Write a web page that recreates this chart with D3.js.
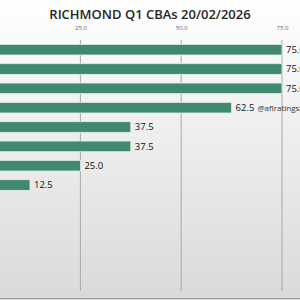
<!DOCTYPE html>
<html>
<head>
<meta charset="utf-8">
<script src="https://cdn.jsdelivr.net/npm/d3@7"></script>
<style>
  html, body { margin: 0; padding: 0; background: #fff; }
  svg { display: block; }
</style>
</head>
<body>
<svg id="myGraph" width="300" height="300"></svg>
<script>
// player rows (names are cut off on the left of the picture)
var players = ["p1", "p2", "p3", "p4", "p5", "p6", "p7", "p8"];
var cbaPct = [75.0, 75.0, 75.0, 62.5, 37.5, 37.5, 25.0, 12.5];
var tickValues = [0, 25, 50, 75];
var titleText = "RICHMOND Q1 CBAs 20/02/2026";
var credit = "@aflratingsStats";

var svg = d3.select("#myGraph");
var svgWidth = 300, svgHeight = 300;

// background gradient
var defs = svg.append("defs");
var grad = defs.append("linearGradient")
  .attr("id", "bg").attr("x1", 0).attr("y1", 0).attr("x2", 0).attr("y2", 1);
grad.append("stop").attr("offset", "0%").attr("stop-color", "#ffffff");
grad.append("stop").attr("offset", "40%").attr("stop-color", "#f0f0f0");
grad.append("stop").attr("offset", "100%").attr("stop-color", "#dadada");
svg.append("rect").attr("width", svgWidth).attr("height", svgHeight).attr("fill", "url(#bg)");

// scales - zero sits off the left edge
var xScale = d3.scaleLinear().domain([0, 75]).range([-20.4, 282]);
var yScale = d3.scaleBand().domain(players).range([40, 194.7])
  .paddingInner(0.45).paddingOuter(0.225);

// gridlines
svg.append("g")
  .selectAll("line")
  .data(tickValues)
  .enter()
  .append("line")
  .attr("x1", function(d){ return xScale(d); })
  .attr("x2", function(d){ return xScale(d); })
  .attr("y1", 40)
  .attr("y2", 291)
  .attr("stroke", "#a8a8a8")
  .attr("stroke-width", 1);

// top axis labels
var axis = svg.append("g")
  .attr("transform", "translate(0,33)")
  .call(d3.axisTop(xScale).tickValues(tickValues.slice(1)).tickFormat(d3.format(".1f")).tickSize(0));
axis.select(".domain").remove();
axis.selectAll("text")
  .attr("fill", "#666")
  .attr("font-family", "Open Sans, sans-serif")
  .attr("font-size", "6px");

// bars
var bars = svg.append("g").selectAll("g")
  .data(cbaPct)
  .enter()
  .append("g");

bars.append("rect")
  .attr("x", xScale(0))
  .attr("y", function(d, i){ return yScale(players[i]); })
  .attr("width", function(d){ return xScale(d) - xScale(0); })
  .attr("height", yScale.bandwidth())
  .attr("fill", "#3f8a6f")
  .attr("stroke", "#e6eee9")
  .attr("stroke-width", 0.8);

// value labels
var labels = bars.append("text")
  .attr("x", function(d){ return xScale(d) + 4; })
  .attr("y", function(d, i){ return yScale(players[i]) + yScale.bandwidth() / 2; })
  .attr("dy", "0.35em")
  .attr("fill", "#111")
  .attr("font-family", "Open Sans, sans-serif")
  .attr("font-size", "9.5px")
  .text(function(d){ return d3.format(".1f")(d); });

// credit beside the 62.5 bar
labels.filter(function(d, i){ return i === 3; })
  .append("tspan")
  .attr("dx", 3)
  .attr("font-size", "8px")
  .attr("fill", "#333")
  .text(credit);

// title
svg.append("text")
  .attr("x", 150)
  .attr("y", 19)
  .attr("text-anchor", "middle")
  .attr("fill", "#262626")
  .attr("font-family", "Open Sans, sans-serif")
  .attr("font-weight", "600")
  .attr("font-size", "13px")
  .text(titleText);

// bottom border
svg.append("line")
  .attr("x1", 0).attr("x2", svgWidth)
  .attr("y1", 298.5).attr("y2", 298.5)
  .attr("stroke", "#9a9a9a")
  .attr("stroke-width", 1);
</script>
</body>
</html>
